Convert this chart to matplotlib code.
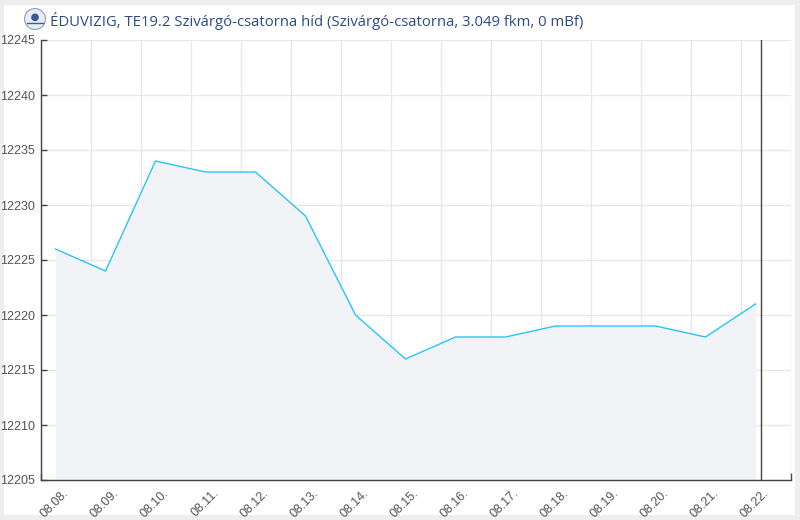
import numpy as np
import matplotlib
matplotlib.use("Agg")
from matplotlib import pyplot as plt
from matplotlib.patches import Rectangle, Circle

# daily readings (mBf), one per day, taken ~07:00
days = ["08.08.", "08.09.", "08.10.", "08.11.", "08.12.", "08.13.", "08.14.", "08.15.",
        "08.16.", "08.17.", "08.18.", "08.19.", "08.20.", "08.21.", "08.22."]
values = [12226, 12224, 12234, 12233, 12233, 12229, 12220, 12216,
          12218, 12218, 12219, 12219, 12219, 12218, 12221]
y_ticks = [12205, 12210, 12215, 12220, 12225, 12230, 12235, 12240, 12245]
title = "ÉDUVIZIG, TE19.2 Szivárgó-csatorna híd (Szivárgó-csatorna, 3.049 fkm, 0 mBf)"

day_offset = 0.3   # time of day of the reading, as a fraction of the day
now_pos = 14.4     # vertical "now" marker

fig = plt.figure(figsize=(8, 5.2), dpi=100, facecolor="#eeeeee")
# white panel
fig.add_artist(Rectangle((4 / 800, 5 / 520), 791 / 800, 510 / 520,
                         transform=fig.transFigure, facecolor="white",
                         edgecolor="none", zorder=-10))

ax = fig.add_axes([40.5 / 800, 40 / 520, 750 / 800, 440 / 520])
ax.set_zorder(2)
ax.set_facecolor("none")

x = np.arange(len(values)) + day_offset
ax.fill_between(x, values, y_ticks[0], color="#f2f3f7", lw=0, zorder=1)
ax.plot(x, values, color="#2ac4f4", lw=1.0, zorder=3)
ax.axvline(now_pos, color="#444444", lw=1.0, zorder=4)

ax.set_xlim(0, len(days))
ax.set_ylim(y_ticks[0], y_ticks[-1])

# gridlines at day boundaries, labels near the middle of each day
ax.set_xticks(np.arange(len(days) + 1))
ax.set_xticklabels([])
ax.set_xticks(np.arange(len(days)) + 0.45, minor=True)
ax.set_xticklabels(days, minor=True, rotation=45, ha="right", va="top",
                   rotation_mode="anchor", fontsize=9, color="#555555",
                   family="Liberation Sans")
ax.tick_params(axis="x", which="minor", length=0, pad=5)
ax.tick_params(axis="x", which="major", direction="in", length=5,
               color="#444444", width=1)

ax.set_yticks(y_ticks)
ax.set_yticklabels([str(v) for v in y_ticks], fontsize=9, color="#555555",
                   family="Liberation Sans")
ax.tick_params(axis="y", direction="in", length=4, color="#444444", width=1, pad=4)

ax.grid(True, which="major", color="#e8e8e8", lw=1, zorder=0)
ax.set_axisbelow(True)
for side in ["top", "right"]:
    ax.spines[side].set_visible(False)
for side in ["left", "bottom"]:
    ax.spines[side].set_color("#444444")
    ax.spines[side].set_linewidth(1)

# small logo + title
logo = fig.add_axes([24 / 800, (520 - 30) / 520, 22 / 800, 22 / 520])
logo.set_zorder(3)
logo.set_xlim(-1, 1)
logo.set_ylim(-1, 1)
logo.set_aspect("equal")
logo.axis("off")
logo.add_patch(Circle((0, 0), 0.95, facecolor="#e9eef5", edgecolor="#8aa0c0", lw=0.8))
logo.add_patch(Circle((0, 0.15), 0.35, facecolor="#3a5a90", edgecolor="none"))
logo.plot([-0.7, 0.7], [-0.35, -0.35], color="#3a5a90", lw=1)

fig.text(50 / 800, 1 - 21 / 520, title, fontsize=10.7, color="#2b4b86",
         family="Open Sans", va="center", ha="left")

fig.savefig("out.png", dpi=100, facecolor=fig.get_facecolor())
